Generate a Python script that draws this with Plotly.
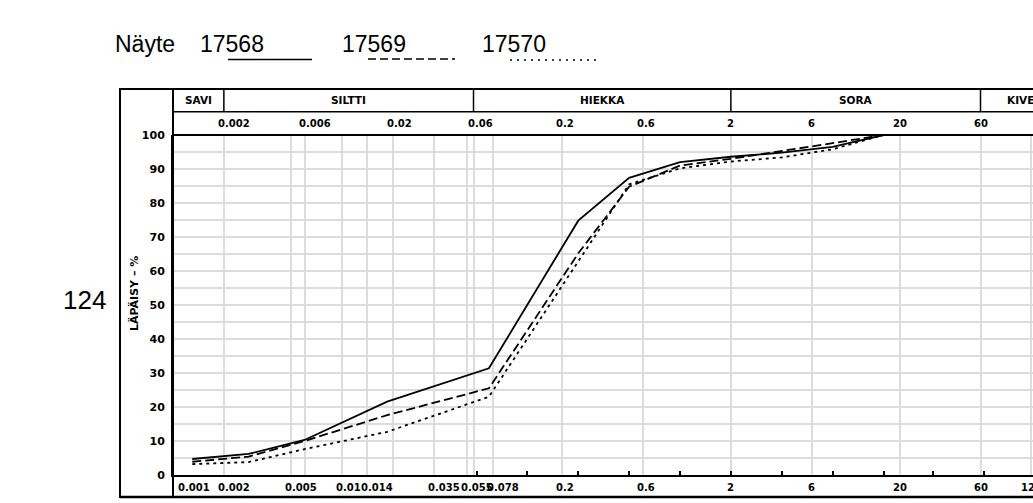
import math
import plotly.graph_objects as go

# ---------------- data ----------------
grain_mm = [0.0013, 0.0028, 0.006, 0.0185, 0.074, 0.25, 0.5, 1, 2, 4, 8, 16]
pass_17568 = [4.7, 6.2, 10.3, 21.6, 31.4, 74.8, 87.4, 92.0, 93.6, 94.8, 96.5, 100]
pass_17569 = [3.9, 5.4, 10.0, 17.6, 25.5, 65.2, 84.8, 91.0, 93.0, 95.2, 97.6, 100]
pass_17570 = [3.2, 3.8, 7.6, 12.7, 23.0, 63.0, 85.5, 90.2, 92.2, 93.4, 95.8, 100]
sample_ids = ["17568", "17569", "17570"]
sample_dash = ["solid", "9px,4px", "3px,4px"]

fractions = ["SAVI", "SILTTI", "HIEKKA", "SORA", "KIVET"]
fraction_bounds = [0.001, 0.002, 0.06, 2, 60, 200]
top_label_vals = [0.002, 0.006, 0.02, 0.06, 0.2, 0.6, 2, 6, 20, 60]
top_label_txt = ["0.002", "0.006", "0.02", "0.06", "0.2", "0.6", "2", "6", "20", "60"]
bottom_label_vals = [0.001, 0.002, 0.005, 0.01, 0.014, 0.035, 0.055, 0.078, 0.2, 0.6, 2, 6, 20, 60, 120]
bottom_label_txt = ["0.001", "0.002", "0.005", "0.01", "0.014", "0.035", "0.055", "0.078",
                    "0.2", "0.6", "2", "6", "20", "60", "120"]
grid_x = [0.002, 0.005, 0.006, 0.01, 0.014, 0.02, 0.035, 0.055, 0.06, 0.078,
          0.2, 0.6, 2, 6, 20, 60, 120]
sieve_ticks = [0.063, 0.125, 0.25, 0.5, 1, 2, 4, 8, 16, 31.5, 63]
y_ticks = list(range(0, 101, 10))
y_title = "LÄPÄISY – %"
side_label = "124"
title_word = "Näyte"

# ---------------- geometry ----------------
W, H = 1033, 503
L, R, T, B = 173, 0, 135, 28
PW, PH = W - L - R, H - T - B
DECADE = 169.0
XMIN = -3.0
XMAX = XMIN + PW / DECADE


def px_x(p):
    return (p - L) / PW


def px_y(p):
    return (H - B - p) / PH


def xp(v):
    return (math.log10(v) - XMIN) / (XMAX - XMIN)


fig = go.Figure()
series = [pass_17568, pass_17569, pass_17570]
for sid, vals, dash in zip(sample_ids, series, sample_dash):
    fig.add_trace(go.Scatter(x=grain_mm, y=vals, mode="lines", name=sid,
                             line=dict(color="black", width=1.8, dash=dash),
                             hoverinfo="skip", showlegend=False))

# invisible trace to carry the sieve tick axis
fig.add_trace(go.Scatter(x=sieve_ticks, y=[0] * len(sieve_ticks), xaxis="x2", mode="markers",
                         marker=dict(opacity=0), hoverinfo="skip", showlegend=False))

GRID = "#dcdcdc"
BOLD = dict(family="DejaVu Sans", size=10, color="black", weight="bold")

fig.update_layout(
    width=W, height=H,
    margin=dict(l=L, r=R, t=T, b=B, pad=0),
    paper_bgcolor="white", plot_bgcolor="white",
    showlegend=False, hovermode=False,
    xaxis=dict(type="log", range=[XMIN, XMAX], tickvals=grid_x, showticklabels=False,
               ticks="", showgrid=True, gridcolor=GRID, gridwidth=1.5,
               showline=True, linecolor="black", linewidth=2, zeroline=False),
    xaxis2=dict(type="log", range=[XMIN, XMAX], overlaying="x", anchor="y", side="bottom",
                tickvals=sieve_ticks, ticks="inside", ticklen=4, tickwidth=1.5,
                tickcolor="black", showticklabels=False, showgrid=False,
                showline=False, zeroline=False),
    yaxis=dict(range=[0, 100], tickvals=y_ticks, ticks="", showgrid=True,
               gridcolor=GRID, gridwidth=1.5,
               minor=dict(dtick=5, tick0=0, showgrid=True, gridcolor=GRID, gridwidth=1.5),
               showline=True, linecolor="black", linewidth=2, zeroline=False,
               tickfont=dict(family="DejaVu Sans", size=11, color="black", weight="bold"),
               ticklabelstandoff=4),
)

shapes = []


def hline(y, x0, x1, w=2):
    shapes.append(dict(type="line", xref="paper", yref="paper", x0=x0, x1=x1,
                       y0=px_y(y), y1=px_y(y), line=dict(color="black", width=w)))


def vline(x, y0, y1, w=2):
    shapes.append(dict(type="line", xref="paper", yref="paper", x0=x, x1=x,
                       y0=px_y(y0), y1=px_y(y1), line=dict(color="black", width=w)))


# frame
hline(89, px_x(120), 1.1, 2)
hline(497, px_x(120), 1.1, 2.5)
vline(px_x(120), 88, 498, 2)
vline(0, 89, 497, 2)
hline(111.7, 0, 1.1, 1.5)
hline(135, 0, 1.1, 2)
for b in fraction_bounds[1:-1]:
    vline(xp(b), 89, 111.7, 1.5)

# legend sample lines in title row
shapes.append(dict(type="line", xref="paper", yref="paper", x0=px_x(228), x1=px_x(312),
                   y0=px_y(59.5), y1=px_y(59.5), line=dict(color="black", width=1.5)))
shapes.append(dict(type="line", xref="paper", yref="paper", x0=px_x(368), x1=px_x(455),
                   y0=px_y(59), y1=px_y(59), line=dict(color="black", width=1.5, dash="8px,4px")))
shapes.append(dict(type="line", xref="paper", yref="paper", x0=px_x(510), x1=px_x(596),
                   y0=px_y(60), y1=px_y(60), line=dict(color="black", width=1.5, dash="2px,5px")))
fig.update_layout(shapes=shapes)

ann = []
# fraction names
for i, name in enumerate(fractions):
    c = math.sqrt(fraction_bounds[i] * fraction_bounds[i + 1])
    ann.append(dict(text=name, xref="paper", yref="paper", x=xp(c), y=px_y(100.5),
                    xanchor="center", yanchor="middle", showarrow=False,
                    font=dict(BOLD, size=10.5)))


def num_label(v, t, ypx, first=False):
    if v < 1:
        d = dict(xanchor="left", xshift=3 if first else -8)
    else:
        d = dict(xanchor="center", xshift=0)
    return dict(text=t, xref="paper", yref="paper", x=xp(v), y=px_y(ypx),
                yanchor="middle", showarrow=False, font=BOLD, **d)


for v, t in zip(top_label_vals, top_label_txt):
    ann.append(num_label(v, t, 124))
for i, (v, t) in enumerate(zip(bottom_label_vals, bottom_label_txt)):
    ann.append(num_label(v, t, 487, first=(i == 0)))

# y title
ann.append(dict(text=y_title, xref="paper", yref="paper", x=px_x(134), y=px_y(294),
                xanchor="center", yanchor="middle", textangle=-90, showarrow=False,
                font=dict(family="DejaVu Sans", size=11, color="black", weight="bold")))
# side label
ann.append(dict(text=side_label, xref="paper", yref="paper", x=px_x(84), y=px_y(300),
                xanchor="center", yanchor="middle", showarrow=False,
                font=dict(family="Liberation Sans", size=26, color="black")))
# title row
TF = dict(family="Liberation Sans", size=23, color="black")
for t, xl in zip([title_word] + sample_ids, [113, 198, 340, 480]):
    ann.append(dict(text=t, xref="paper", yref="paper", x=px_x(xl), y=px_y(44),
                    xanchor="left", yanchor="middle", showarrow=False, font=TF))
fig.update_layout(annotations=ann)

fig.write_html("out.html")
